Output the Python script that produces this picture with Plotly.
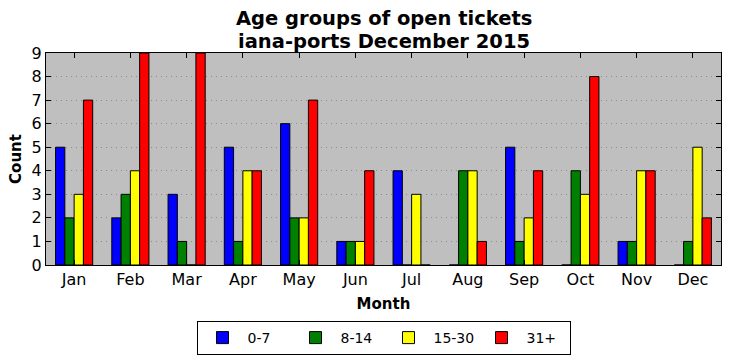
import plotly.graph_objects as go

months = ["Jan", "Feb", "Mar", "Apr", "May", "Jun", "Jul", "Aug", "Sep", "Oct", "Nov", "Dec"]
age_0_7 = [5, 2, 3, 5, 6, 1, 4, 0, 5, 0, 1, 0]
age_8_14 = [2, 3, 1, 1, 2, 1, 0, 4, 1, 4, 1, 1]
age_15_30 = [3, 4, 0, 4, 2, 1, 3, 4, 2, 3, 4, 5]
age_31p = [7, 9, 9, 4, 7, 4, 0, 1, 4, 8, 4, 2]

series = [
    ("0-7", age_0_7, "#0000ff"),
    ("8-14", age_8_14, "#008000"),
    ("15-30", age_15_30, "#ffff00"),
    ("31+", age_31p, "#ff0000"),
]

fig = go.Figure()
for name, vals, col in series:
    fig.add_trace(go.Bar(
        x=months, y=vals, name=name,
        marker=dict(color=col, line=dict(color="black", width=1)),
    ))

font = "DejaVu Sans, Liberation Sans, sans-serif"
PLOT_TOP, PLOT_BOTTOM = 53, 265
PH = PLOT_BOTTOM - PLOT_TOP


def py(p):
    return (PLOT_BOTTOM - p) / PH


fig.update_layout(
    width=731, height=361,
    margin=dict(l=46, r=10, t=PLOT_TOP, b=361 - PLOT_BOTTOM, autoexpand=False),
    paper_bgcolor="white",
    plot_bgcolor="#bfbfbf",
    barmode="group",
    bargap=0.34,
    bargroupgap=0,
    font=dict(family=font, color="black"),
    showlegend=True,
    legend=dict(
        orientation="h",
        x=0.5, xanchor="center", xref="paper",
        y=6 / 361, yref="container", yanchor="bottom",
        bordercolor="black", borderwidth=1,
        bgcolor="white",
        font=dict(size=14, family=font),
        itemwidth=40,
        entrywidth=38,
    ),
    annotations=[
        dict(text="<b>Age groups of open tickets</b>",
             x=0.5, xref="paper", xanchor="center",
             y=py(19), yref="paper", yanchor="middle",
             showarrow=False, font=dict(size=19.5, family=font, color="black")),
        dict(text="<b>iana-ports December 2015</b>",
             x=0.5, xref="paper", xanchor="center",
             y=py(41), yref="paper", yanchor="middle",
             showarrow=False, font=dict(size=19.5, family=font, color="black")),
    ],
    xaxis=dict(
        range=[-0.5, 11.5], automargin=False,
        showline=True, linecolor="black", linewidth=1, mirror="ticks",
        ticks="inside", ticklen=5, tickcolor="black",
        showgrid=False,
        tickfont=dict(size=16),
        title=dict(text="<b>Month</b>", font=dict(size=15), standoff=10),
    ),
    yaxis=dict(
        range=[0, 9], dtick=1, automargin=False,
        showline=True, linecolor="black", linewidth=1, mirror="ticks",
        ticks="inside", ticklen=5, tickcolor="black",
        showgrid=True, gridcolor="#8c8c8c", griddash="1px,4px", gridwidth=1,
        zeroline=False,
        tickfont=dict(size=16),
        title=dict(text="<b>Count</b>", font=dict(size=15), standoff=6),
    ),
)

fig.write_html(
    "out.html",
    config={"displayModeBar": False},
    post_script="document.body.style.margin='0';",
)
